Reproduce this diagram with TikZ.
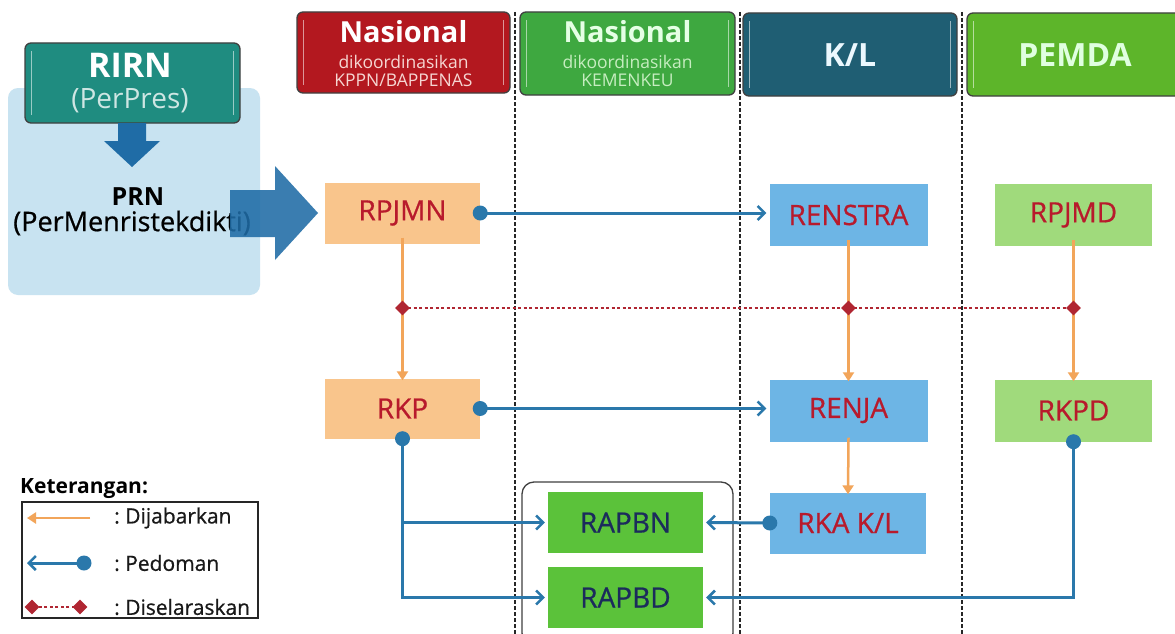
\documentclass[tikz,border=0pt]{standalone}
\usepackage{fontspec}
\setmainfont{Open Sans}
\newfontfamily\medfont[FakeBold=0.7]{Open Sans}
\usetikzlibrary{arrows.meta,shapes.geometric}
\definecolor{hred}{HTML}{B3181F}
\definecolor{hgreen}{HTML}{3EA840}
\definecolor{hkl}{HTML}{1F5E73}
\definecolor{hpem}{HTML}{5DB52A}
\definecolor{teal}{HTML}{1F8C80}
\definecolor{panel}{HTML}{C8E3F1}
\definecolor{bigarr}{HTML}{1F6CA6}
\definecolor{orbox}{HTML}{F9C58C}
\definecolor{blbox}{HTML}{6DB5E5}
\definecolor{lgbox}{HTML}{A0DA7C}
\definecolor{gbox}{HTML}{5BC23A}
\definecolor{boxred}{HTML}{B81A2C}
\definecolor{navy}{HTML}{1B2B5C}
\definecolor{pedc}{HTML}{2A78AB}
\definecolor{jabc}{HTML}{F2A55A}
\definecolor{selc}{HTML}{B02632}
\definecolor{subred}{HTML}{F6D6D2}
\definecolor{subgreen}{HTML}{C6EDC0}
\begin{document}
\begin{tikzpicture}[x=1pt,y=-1pt,
  hdr/.style={rounded corners=6pt, draw=black!75, line width=1.3pt, inner sep=0pt},
  pbox/.style={inner sep=0pt, text=boxred, font=\medfont\fontsize{28}{28}\selectfont},
  gstrip/.style={white, opacity=0.55, line width=1.6pt},
  sep/.style={black!85, line width=1.6pt, dash pattern=on 4pt off 2pt},
  ped/.style={pedc, line width=3pt, -{Straight Barb[length=7pt,width=14pt,line width=2.5pt]}},
  jab/.style={jabc, line width=2.5pt, -{Triangle[length=9pt,width=11pt]}},
  sel/.style={selc, line width=2.4pt, dash pattern=on 3pt off 2.5pt},
  dia/.style={diamond, fill=selc, inner sep=0pt, minimum size=15pt},
  big/.style={inner sep=0pt, font=\fontsize{29}{29}\selectfont\bfseries},
  small/.style={inner sep=0pt, text height=12.5pt, text depth=0pt, font=\fontsize{17.5}{17.5}\selectfont},
  lgtext/.style={anchor=west, inner sep=0pt, font=\medfont\fontsize{21}{21}\selectfont, text=black!90}
]
\useasboundingbox (0,0) rectangle (1175,634);
\fill[white] (0,0) rectangle (1175,634);

% separators
\draw[sep] (515,12) -- (515,634);
\draw[sep] (740,12) -- (740,634);
\draw[sep] (962,12) -- (962,634);

% headers
\node[hdr, fill=hred, minimum width=213pt, minimum height=81pt] (h1) at (403.5,52.5) {};
\node[hdr, fill=hgreen, minimum width=215pt, minimum height=83pt] (h2) at (627.5,53.5) {};
\node[hdr, fill=hkl, minimum width=214pt, minimum height=83pt] (h3) at (850,54.5) {};
\node[hdr, fill=hpem, minimum width=216pt, minimum height=83pt] (h4) at (1075,54.5) {};
\foreach \n in {h1,h2,h3,h4}{
  \draw[gstrip] ([xshift=7pt,yshift=-9pt]\n.north west) -- ([xshift=7pt,yshift=9pt]\n.south west);
  \draw[gstrip] ([xshift=-7pt,yshift=-9pt]\n.north east) -- ([xshift=-7pt,yshift=9pt]\n.south east);
}
\node[big, text=white] (t1a) at (403.5,32) {Nasional};
\node[small, text=subred] (t1b) at (403.5,62) {dikoordinasikan};
\node[small, text=subred] (t1c) at (403.5,80.5) {KPPN/BAPPENAS};
\node[big, text=white!90!green] (t2a) at (627.5,32) {Nasional};
\node[small, text=subgreen] (t2b) at (627.5,62) {dikoordinasikan};
\node[small, text=subgreen] (t2c) at (627.5,80.5) {KEMENKEU};
\node[big, text=white!92!cyan, font=\fontsize{32}{32}\selectfont\bfseries] (t3) at (850,55) {K/L};
\node[big, text=white!88!green, font=\fontsize{32}{32}\selectfont\bfseries] (t4) at (1075,55) {PEMDA};

% left panel
\fill[panel, rounded corners=10pt] (8,88) rectangle (260,295);
\node[hdr, fill=teal, minimum width=215pt, minimum height=80pt] (rirn) at (132.5,83) {};
\draw[gstrip] ([xshift=7pt,yshift=-9pt]rirn.north west) -- ([xshift=7pt,yshift=9pt]rirn.south west);
\draw[gstrip] ([xshift=-7pt,yshift=-9pt]rirn.north east) -- ([xshift=-7pt,yshift=9pt]rirn.south east);
\node[inner sep=0pt, text=white, font=\fontsize{34}{34}\selectfont\bfseries] (rirn1) at (130,65) {RIRN};
\node[inner sep=0pt, text=white!78!teal, font=\fontsize{28}{28}\selectfont] (rirn2) at (130,101) {(PerPres)};
\fill[bigarr] (118,123) -- (146,123) -- (146,141) -- (160,141) -- (132,167) -- (104,141) -- (118,141) -- cycle;
\node[inner sep=0pt, text=black, font=\fontsize{25}{25}\selectfont\bfseries] (prn1) at (138,197) {PRN};
\node[inner sep=0pt, text=black, font=\medfont\fontsize{27}{27}\selectfont] (prn2) at (132,223) {(PerMenristekdikti)};
\fill[bigarr, opacity=0.88] (230,190) -- (275,190) -- (275,166) -- (318,213) -- (275,260) -- (275,237) -- (230,237) -- cycle;

% boxes
\node[pbox, fill=orbox, minimum width=155pt, minimum height=61pt] (rpjmn) at (402.5,213) {RPJMN};
\node[pbox, fill=orbox, minimum width=155pt, minimum height=60pt] (rkp) at (402.5,408.5) {RKP};
\node[pbox, fill=blbox, minimum width=158pt, minimum height=62pt] (renstra) at (848.5,215) {RENSTRA};
\node[pbox, fill=blbox, minimum width=158pt, minimum height=62pt] (renja) at (848.5,410.5) {RENJA};
\node[pbox, fill=lgbox, minimum width=157pt, minimum height=62pt] (rpjmd) at (1073.5,215) {RPJMD};
\node[pbox, fill=lgbox, minimum width=157pt, minimum height=62pt] (rkpd) at (1073.5,410.5) {RKPD};
\node[pbox, fill=blbox, minimum width=156pt, minimum height=61pt] (rka) at (848,523) {RKA K/L};
\node[pbox, fill=gbox, text=navy, minimum width=155pt, minimum height=61pt] (rapbn) at (625.5,522.5) {RAPBN};
\node[pbox, fill=gbox, text=navy, minimum width=155pt, minimum height=61pt] (rapbd) at (625.5,597.5) {RAPBD};
\draw[black!75, line width=1.3pt, rounded corners=12pt] (522,482) rectangle (733,645);

% dijabarkan
\draw[jab] ([yshift=6pt]rpjmn.south) -- ([yshift=-2pt]rkp.north);
\draw[jab] ([yshift=6pt]renstra.south) -- ([yshift=-2pt]renja.north);
\draw[jab] ([yshift=4pt]renja.south) -- ([yshift=-2pt]rka.north);
\draw[jab] ([yshift=6pt]rpjmd.south) -- ([yshift=-2pt]rkpd.north);

% diselaraskan
\coordinate (s1) at (rpjmn.south |- 0,308);
\coordinate (s2) at (renstra.south |- 0,308);
\coordinate (s3) at (rpjmd.south |- 0,308);
\draw[sel] (s1) -- (s3);
\node[dia] (d1) at (s1) {};
\node[dia] (d2) at (s2) {};
\node[dia] (d3) at (s3) {};

% pedoman
\draw[ped] (rpjmn.east) -- ([xshift=-3pt]renstra.west |- rpjmn.east);
\fill[pedc] (rpjmn.east) circle (7.5);
\draw[ped] (rkp.east) -- ([xshift=-3pt]renja.west |- rkp.east);
\fill[pedc] (rkp.east) circle (7.5);
\coordinate (b1) at (rkp.south |- rapbn.west);
\coordinate (b2) at (rkp.south |- rapbd.west);
\draw[ped] (rkp.south) -- (b1) -- ([xshift=-3pt]rapbn.west);
\draw[ped] (b1) -- (b2) -- ([xshift=-3pt]rapbd.west);
\fill[pedc] (rkp.south) circle (7.5);
\draw[ped] (rka.west) -- ([xshift=3pt]rapbn.east);
\fill[pedc] (rka.west) circle (7.5);
\coordinate (b3) at (rkpd.south |- rapbd.east);
\draw[ped] (rkpd.south) -- (b3) -- ([xshift=3pt]rapbd.east);
\fill[pedc] (rkpd.south) circle (7.5);

% legend
\node[anchor=west, inner sep=0pt, font=\fontsize{21}{21}\selectfont\bfseries] (ket) at (20,489) {Keterangan:};
\draw[black!85, line width=1.2pt] (22,502) rectangle (258,618);
\coordinate (l1a) at (90,518); \coordinate (l1b) at (27,518);
\coordinate (l2a) at (84,563); \coordinate (l2b) at (27,563);
\coordinate (l3a) at (80,607); \coordinate (l3b) at (32,607);
\draw[jab] (l1a) -- (l1b);
\draw[ped] (l2a) -- (l2b);
\fill[pedc] (l2a) circle (7.5);
\draw[sel] (l3a) -- (l3b);
\node[dia] (ld1) at (l3a) {};
\node[dia] (ld2) at (l3b) {};
\node[lgtext] (lt1) at (114,518) {:\ Dijabarkan};
\node[lgtext] (lt2) at (114,563) {:\ Pedoman};
\node[lgtext] (lt3) at (114,607) {:\ Diselaraskan};
\end{tikzpicture}
\end{document}
